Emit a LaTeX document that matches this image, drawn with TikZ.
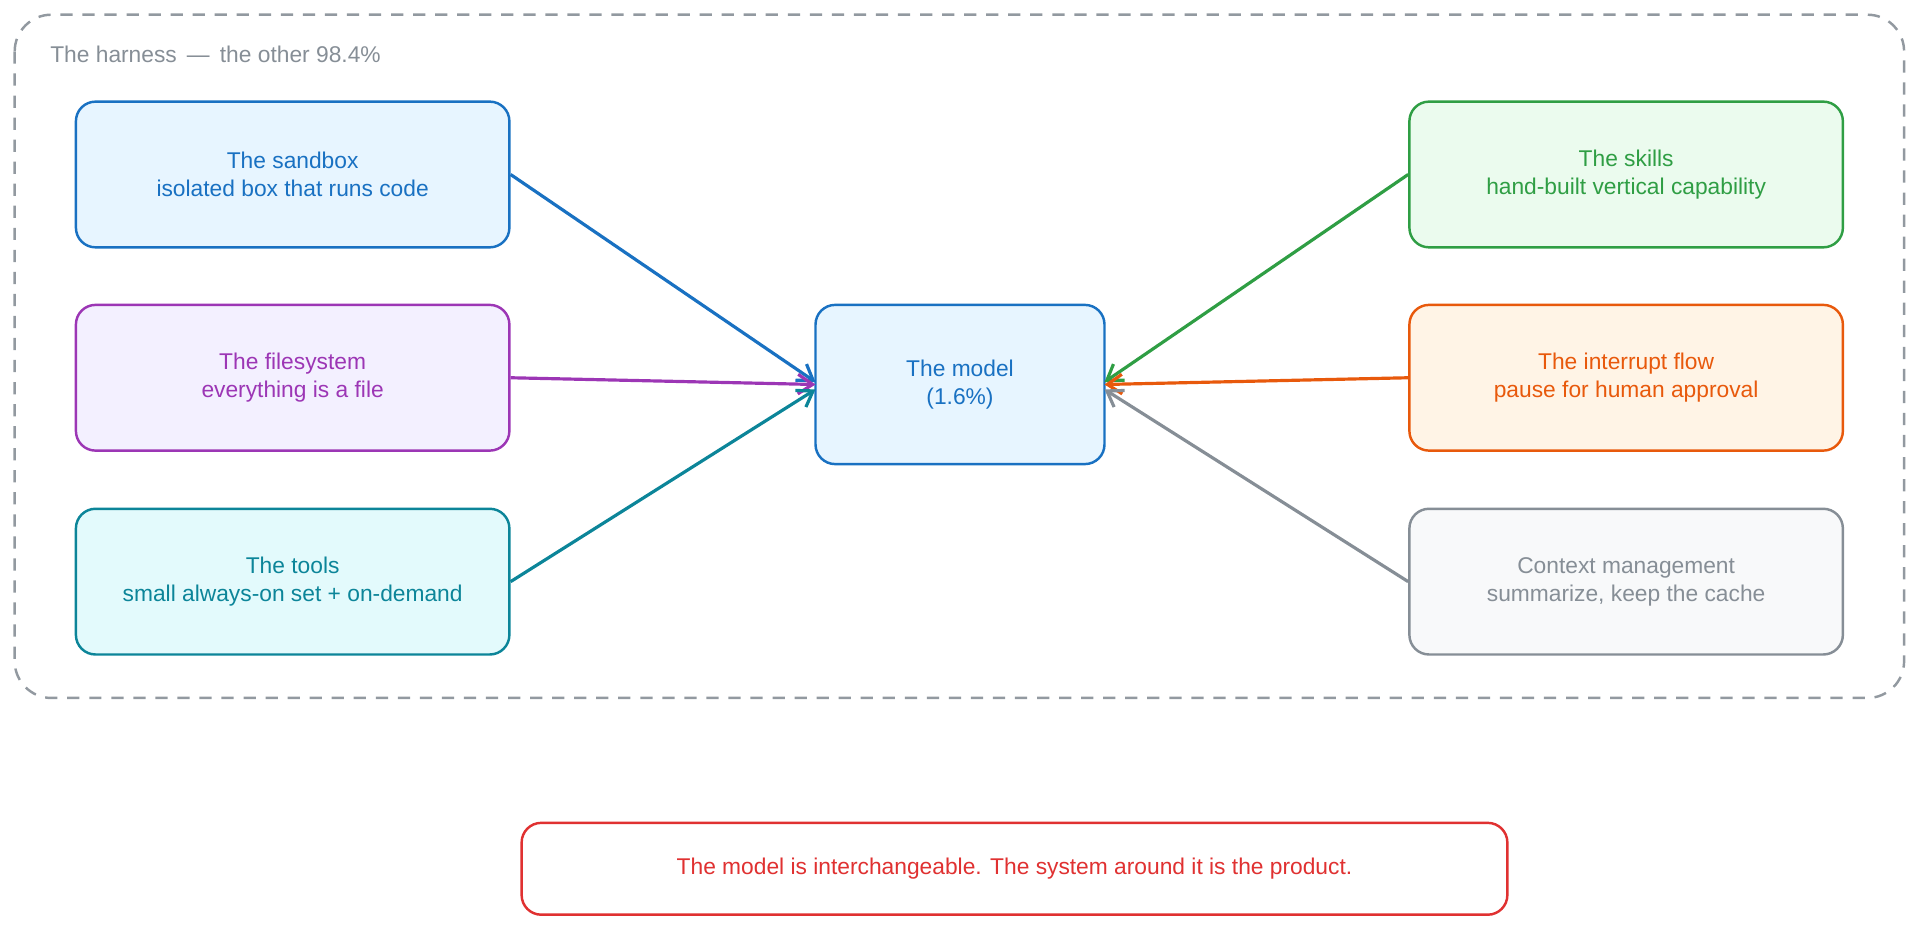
\documentclass[tikz,border=0pt]{standalone}
\usepackage{fontspec}
\setmainfont{Liberation Sans}
\usetikzlibrary{arrows.meta}
\definecolor{cblue}{HTML}{1971C2}\definecolor{fblue}{HTML}{E7F5FF}
\definecolor{cpur}{HTML}{9C36B5}\definecolor{fpur}{HTML}{F3F0FF}
\definecolor{cteal}{HTML}{0C8599}\definecolor{fteal}{HTML}{E3FAFC}
\definecolor{cgreen}{HTML}{2F9E44}\definecolor{fgreen}{HTML}{EBFBEE}
\definecolor{corange}{HTML}{E8590C}\definecolor{forange}{HTML}{FFF4E6}
\definecolor{cgray}{HTML}{868E96}\definecolor{fgray}{HTML}{F8F9FA}
\definecolor{cred}{HTML}{E03131}
\begin{document}
\begin{tikzpicture}[x=0.5pt,y=-0.5pt,
  box/.style={draw=#1, text=#1, line width=1pt, rounded corners=8pt, minimum width=177pt, minimum height=59.5pt, align=center, font=\fontsize{9.3}{11.5}\selectfont},
  arr/.style={draw=#1, line width=1.3pt, -{Straight Barb[length=6pt,width=8pt]}}]
\useasboundingbox (0,0) rectangle (1568,759);
\draw[cgray!90, line width=1pt, dash pattern=on 5pt off 4pt, rounded corners=15pt] (12,12) rectangle (1555,570);
\node[anchor=west, text=cgray, font=\fontsize{9.3}{11.5}\selectfont] (lab) at (34,44) {The harness \,—\, the other 98.4\%};
\node[box=cblue, fill=fblue] (sb) at (239,142.5) {The sandbox\\isolated box that runs code};
\node[box=cpur, fill=fpur] (fs) at (239,308.5) {The filesystem\\everything is a file};
\node[box=cteal, fill=fteal] (tl) at (239,475) {The tools\\small always-on set + on-demand};
\node[box=cblue, fill=fblue, minimum width=118pt, minimum height=65pt] (m) at (784,314) {The model\\(1.6\%)};
\node[box=cgreen, fill=fgreen] (sk) at (1328,142.5) {The skills\\hand-built vertical capability};
\node[box=corange, fill=forange] (ip) at (1328,308.5) {The interrupt flow\\pause for human approval};
\node[box=cgray, fill=fgray] (cm) at (1328,475) {Context management\\summarize, keep the cache};
\node[box=cred, fill=white, minimum width=402.5pt, minimum height=37.5pt] (bt) at (828.5,709.5) {The model is interchangeable. The system around it is the product.};
\coordinate (m1) at (666,312); \coordinate (m2) at (666,314); \coordinate (m3) at (666,318);
\coordinate (n1) at (902,312); \coordinate (n2) at (902,314); \coordinate (n3) at (902,318);
\draw[arr=cblue] (sb.east) -- (m1);
\draw[arr=cpur] (fs.east) -- (m2);
\draw[arr=cteal] (tl.east) -- (m3);
\draw[arr=cgreen] (sk.west) -- (n1);
\draw[arr=corange] (ip.west) -- (n2);
\draw[arr=cgray] (cm.west) -- (n3);
\end{tikzpicture}
\end{document}
